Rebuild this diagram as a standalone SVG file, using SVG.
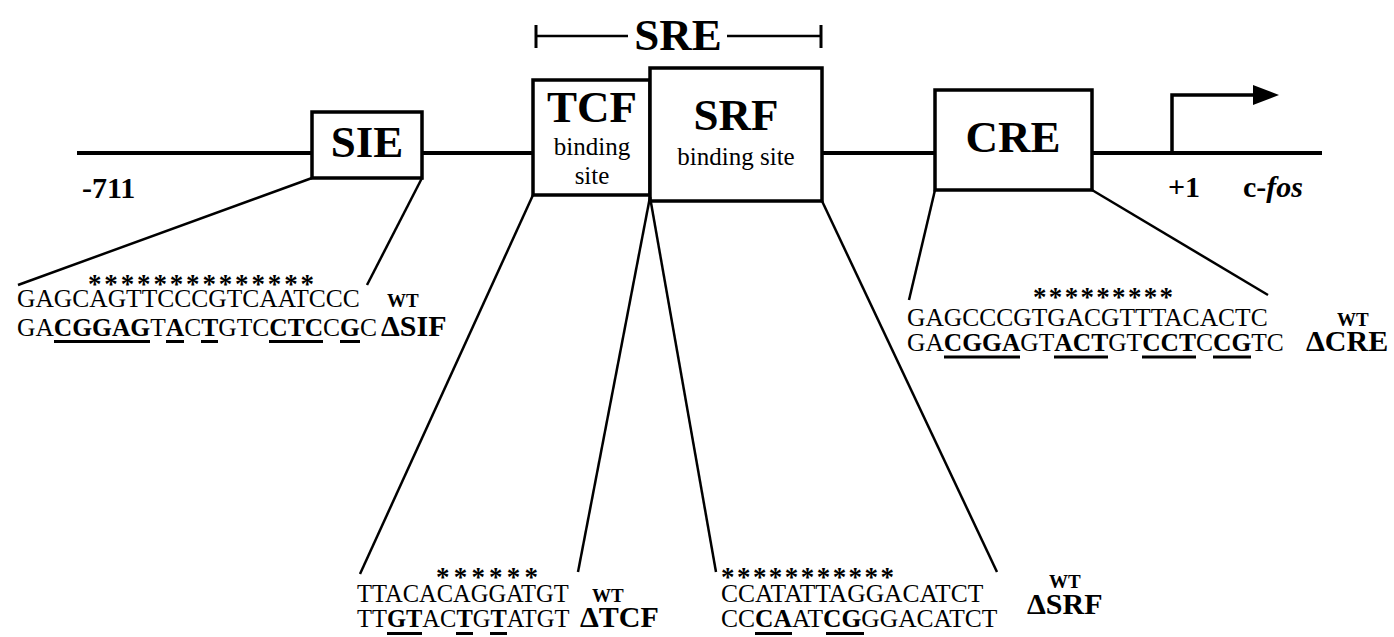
<svg xmlns="http://www.w3.org/2000/svg" width="1394" height="637" viewBox="0 0 1394 637">
<style>
.t{font-family:"Liberation Serif","Times New Roman",serif;fill:#000}
.b{font-weight:bold}
.seq{font-size:25.5px}
.star{font-size:27px;font-weight:bold}
.wt{font-size:19px;font-weight:bold}
.delta{font-size:30px;font-weight:bold}
.big{font-size:45px;font-weight:bold}
.lbl{font-size:30px;font-weight:bold}
.sub{font-size:25px}
.box{fill:#fff;stroke:#000;stroke-width:3.5}
.conn line{stroke:#000;stroke-width:2.5}
.ul{fill:#000}
</style>
<rect width="1394" height="637" fill="#fff"/>

<!-- main DNA line -->
<line x1="77" y1="153" x2="1322" y2="153" stroke="#000" stroke-width="4"/>

<!-- SRE bracket -->
<g id="sre">
<line x1="536" y1="36" x2="628" y2="36" stroke="#000" stroke-width="2.5"/>
<line x1="727" y1="36" x2="821" y2="36" stroke="#000" stroke-width="2.5"/>
<line x1="536" y1="25" x2="536" y2="48" stroke="#000" stroke-width="3"/>
<line x1="821" y1="25" x2="821" y2="48" stroke="#000" stroke-width="3"/>
<text class="t big" x="678" y="50" text-anchor="middle">SRE</text>
</g>

<g id="sie">
<rect class="box" x="312" y="112" width="110" height="66"/>
<text class="t big" x="367" y="157" text-anchor="middle">SIE</text>
</g>

<g id="tcf">
<rect class="box" x="533" y="80" width="117" height="115"/>
<text class="t big" x="592" y="122" text-anchor="middle">TCF</text>
<text class="t sub" x="592" y="155" text-anchor="middle">binding</text>
<text class="t sub" x="592" y="184" text-anchor="middle">site</text>
</g>

<g id="srf">
<rect class="box" x="650" y="68" width="172" height="133"/>
<text class="t big" x="736" y="130" text-anchor="middle">SRF</text>
<text class="t sub" x="736" y="165" text-anchor="middle">binding site</text>
</g>

<g id="cre">
<rect class="box" x="935" y="90" width="157" height="100"/>
<text class="t big" x="1013" y="152" text-anchor="middle">CRE</text>
</g>

<g id="tss">
<path d="M1172,153 V95 H1256" fill="none" stroke="#000" stroke-width="3.5"/>
<path d="M1253,85 L1279,95 L1253,105 Z" fill="#000"/>
</g>

<g id="labels">
<text class="t lbl" x="82" y="198">-711</text>
<text class="t lbl" x="1168" y="197">+1</text>
<text class="t lbl" x="1243" y="197">c-<tspan font-style="italic">fos</tspan></text>
</g>

<g class="conn" id="connectors">
<line x1="312" y1="178" x2="18" y2="285"/>
<line x1="422" y1="178" x2="367" y2="285"/>
<line x1="533" y1="195" x2="360" y2="574"/>
<line x1="650" y1="197" x2="578" y2="572"/>
<line x1="650" y1="197" x2="716" y2="572"/>
<line x1="822" y1="201" x2="997" y2="572"/>
<line x1="935" y1="190" x2="909" y2="300"/>
<line x1="1092" y1="190" x2="1268" y2="295"/>
</g>

<!-- SIF sequences -->
<g id="seq-sif">
<text class="t star" x="88" y="293" textLength="226" lengthAdjust="spacing">**************</text>
<text class="t seq" x="17" y="307">GAGCAGTTCCCGTCAATCCC</text>
<text class="t seq" x="17" y="336">GA<tspan class="b">CGGAG</tspan>T<tspan class="b">A</tspan>C<tspan class="b">T</tspan>GTC<tspan class="b">CTC</tspan>C<tspan class="b">G</tspan>C</text>
<rect class="ul" x="54" y="340" width="96" height="3"/>
<rect class="ul" x="166" y="340" width="18" height="3"/>
<rect class="ul" x="201" y="340" width="17" height="3"/>
<rect class="ul" x="269" y="340" width="54" height="3"/>
<rect class="ul" x="340" y="340" width="20" height="3"/>
<text class="t wt" x="387" y="307">WT</text>
<text class="t delta" x="381" y="336">ΔSIF</text>
</g>

<!-- CRE sequences -->
<g id="seq-cre">
<text class="t star" x="1033" y="306" textLength="140" lengthAdjust="spacing">*********</text>
<text class="t seq" x="907" y="326">GAGCCCGTGACGTTTACACTC</text>
<text class="t seq" x="907" y="351">GA<tspan class="b">CGGA</tspan>GT<tspan class="b">ACT</tspan>GT<tspan class="b">CCT</tspan>C<tspan class="b">CG</tspan>TC</text>
<rect class="ul" x="944" y="355.5" width="76" height="3"/>
<rect class="ul" x="1054" y="355.5" width="54" height="3"/>
<rect class="ul" x="1142" y="355.5" width="54" height="3"/>
<rect class="ul" x="1213" y="355.5" width="38" height="3"/>
<text class="t wt" x="1337" y="326">WT</text>
<text class="t delta" x="1306" y="351">ΔCRE</text>
</g>

<!-- TCF sequences -->
<g id="seq-tcf">
<text class="t star" x="436" y="586" textLength="102" lengthAdjust="spacing">******</text>
<text class="t" font-size="24.5" x="357" y="602">TTACACAGGATGT</text>
<text class="t" font-size="24.5" x="357" y="627">TT<tspan class="b">GT</tspan>AC<tspan class="b">T</tspan>G<tspan class="b">T</tspan>ATGT</text>
<rect class="ul" x="387" y="632" width="35" height="3"/>
<rect class="ul" x="456" y="632" width="17" height="3"/>
<rect class="ul" x="490" y="632" width="17" height="3"/>
<text class="t wt" x="592" y="602">WT</text>
<text class="t delta" x="580" y="627">ΔTCF</text>
</g>

<!-- SRF sequences -->
<g id="seq-srf">
<text class="t star" x="721" y="586" textLength="173" lengthAdjust="spacing">***********</text>
<text class="t seq" x="721" y="602">CCATATTAGGACATCT</text>
<text class="t seq" x="721" y="627">CC<tspan class="b">CA</tspan>AT<tspan class="b">CG</tspan>GGACATCT</text>
<rect class="ul" x="755" y="632" width="37" height="3"/>
<rect class="ul" x="826" y="632" width="38" height="3"/>
<text class="t wt" x="1049" y="588">WT</text>
<text class="t delta" x="1027" y="614">ΔSRF</text>
</g>
</svg>
